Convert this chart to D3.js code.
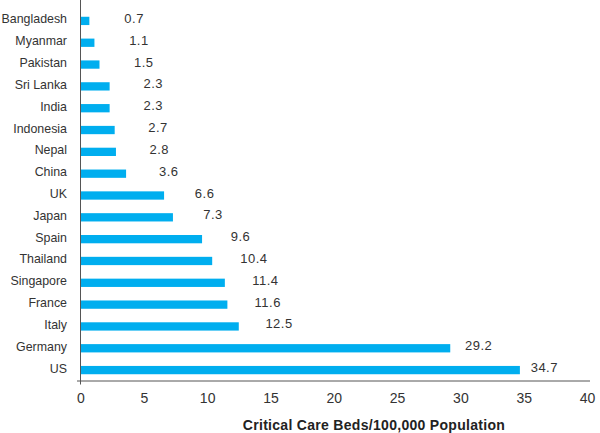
<!DOCTYPE html>
<html>
<head>
<meta charset="utf-8">
<script src="https://cdn.jsdelivr.net/npm/d3@7"></script>
<style>
  html, body { margin: 0; padding: 0; background: #fff; }
  svg { display: block; font-family: "Liberation Sans", Arial, Helvetica, sans-serif; }
</style>
</head>
<body>
<svg id="chart" width="600" height="433"></svg>
<script>
const categories = ["Bangladesh","Myanmar","Pakistan","Sri Lanka","India","Indonesia","Nepal","China","UK","Japan","Spain","Thailand","Singapore","France","Italy","Germany","US"];
const values = [0.7, 1.1, 1.5, 2.3, 2.3, 2.7, 2.8, 3.6, 6.6, 7.3, 9.6, 10.4, 11.4, 11.6, 12.5, 29.2, 34.7];
const valueLabels = ["0.7","1.1","1.5","2.3","2.3","2.7","2.8","3.6","6.6","7.3","9.6","10.4","11.4","11.6","12.5","29.2","34.7"];
const xTicks = [0, 5, 10, 15, 20, 25, 30, 35, 40];
const axisTitle = "Critical Care Beds/100,000 Population";

const data = categories.map((c, i) => ({ cat: c, v: values[i], label: valueLabels[i] }));

const svg = d3.select("#chart");
const barColor = "#00aeef";
const axisColor = "#555";
const textColor = "#333";

const x = d3.scaleLinear().domain([0, 40]).range([80.5, 587]);
const y = d3.scaleBand().domain(categories).range([10, 381]).paddingInner(0.62).paddingOuter(0.31);
// label placement scale (labels in source sit progressively closer to bar ends)
const xLabel = d3.scaleLinear().domain([0, 40]).range([116, 116 + 11.95 * 40]);

// bars
svg.append("g").selectAll("rect").data(data).join("rect")
  .attr("x", x(0))
  .attr("y", d => y(d.cat))
  .attr("width", d => x(d.v) - x(0))
  .attr("height", y.bandwidth())
  .attr("fill", barColor);

// value labels
svg.append("g").selectAll("text").data(data).join("text")
  .attr("x", d => xLabel(d.v))
  .attr("y", d => y(d.cat) + y.bandwidth() / 2 + 2)
  .attr("font-size", 13)
  .attr("letter-spacing", 0.5)
  .attr("fill", textColor)
  .text(d => d.label);

// category labels
svg.append("g").selectAll("text").data(data).join("text")
  .attr("x", 67)
  .attr("y", d => y(d.cat) + y.bandwidth() / 2 + 2.5)
  .attr("text-anchor", "end")
  .attr("font-size", 12.4)
  .attr("fill", textColor)
  .text(d => d.cat);

// x axis
const xAxis = svg.append("g")
  .attr("transform", "translate(0,381)")
  .call(d3.axisBottom(x).tickValues(xTicks).tickSize(0).tickPadding(12).tickFormat(d3.format("d")));
xAxis.select(".domain").remove();
xAxis.selectAll("text")
  .attr("font-size", 14)
  .attr("font-family", "'Liberation Sans', Arial, sans-serif")
  .attr("fill", textColor);

// axis lines
svg.append("line")
  .attr("x1", x(0) - 3.5).attr("x2", x(40) + 3)
  .attr("y1", 381).attr("y2", 381)
  .attr("stroke", axisColor).attr("stroke-width", 1);
svg.append("line")
  .attr("x1", x(0)).attr("x2", x(0))
  .attr("y1", 0).attr("y2", 384.5)
  .attr("stroke", axisColor).attr("stroke-width", 1);

// axis title
svg.append("text")
  .attr("x", 374)
  .attr("y", 430)
  .attr("text-anchor", "middle")
  .attr("font-size", 14)
  .attr("font-weight", "bold")
  .attr("letter-spacing", 0.3)
  .attr("fill", "#222")
  .text(axisTitle);
</script>
</body>
</html>
